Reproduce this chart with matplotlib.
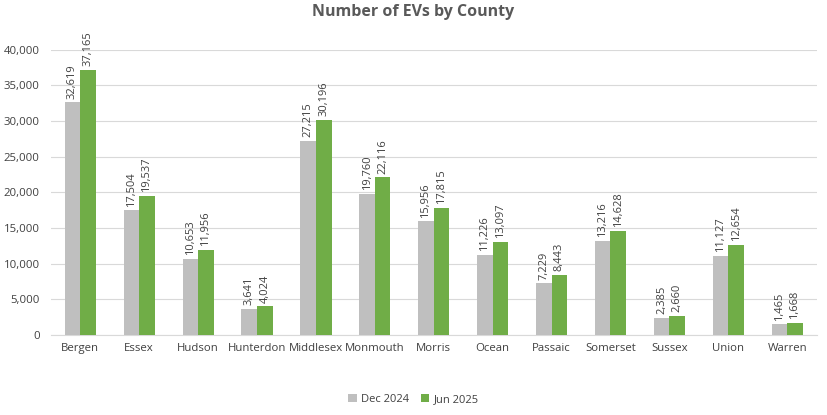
import matplotlib
matplotlib.use("Agg")
import matplotlib.pyplot as plt
import numpy as np
from matplotlib.ticker import FuncFormatter

plt.rcParams['font.family'] = ['Open Sans', 'DejaVu Sans']

counties = ['Bergen', 'Essex', 'Hudson', 'Hunterdon', 'Middlesex', 'Monmouth', 'Morris',
            'Ocean', 'Passaic', 'Somerset', 'Sussex', 'Union', 'Warren']
dec_2024 = [32619, 17504, 10653, 3641, 27215, 19760, 15956, 11226, 7229, 13216, 2385, 11127, 1465]
jun_2025 = [37165, 19537, 11956, 4024, 30196, 22116, 17815, 13097, 8443, 14628, 2660, 12654, 1668]
series_names = ['Dec 2024', 'Jun 2025']
colors = ['#BFBFBF', '#70AD47']

fig = plt.figure(figsize=(8.27, 4.15), dpi=100)
ax = fig.add_axes([0.0615, 0.193, 0.926, 0.687])

x = np.arange(len(counties))
w = 0.265
for i, (vals, name, c) in enumerate(zip([dec_2024, jun_2025], series_names, colors)):
    pos = x + (i - 0.5) * w
    ax.bar(pos, vals, w, color=c, label=name, zorder=3)
    for px, v in zip(pos, vals):
        ax.text(px, v + 500, f'{v:,}', rotation=90, ha='center', va='bottom',
                fontsize=8, color='#404040', clip_on=False)

ax.set_ylim(0, 40000)
ax.set_xlim(-0.5, len(counties) - 0.5)
ax.set_yticks(np.arange(0, 40001, 5000))
ax.yaxis.set_major_formatter(FuncFormatter(lambda v, p: f'{int(v):,}'))
ax.set_xticks(x)
ax.set_xticklabels(counties)
ax.tick_params(axis='both', length=0, labelsize=8.2, colors='#404040')
ax.tick_params(axis='x', pad=6)
ax.tick_params(axis='y', pad=8)
ax.grid(axis='y', color='#D9D9D9', linewidth=0.8, zorder=0)
for s in ['top', 'right', 'left']:
    ax.spines[s].set_visible(False)
ax.spines['bottom'].set_color('#D9D9D9')

fig.suptitle('Number of EVs by County', y=0.99, fontsize=11.5, fontweight='bold', color='#595959')
fig.legend(loc='lower center', ncol=2, frameon=False, fontsize=8, bbox_to_anchor=(0.5, 0.0),
           handlelength=0.8, handleheight=0.8, labelcolor='#404040', columnspacing=1.0,
           handletextpad=0.4)

fig.savefig('out.png', dpi=100)
